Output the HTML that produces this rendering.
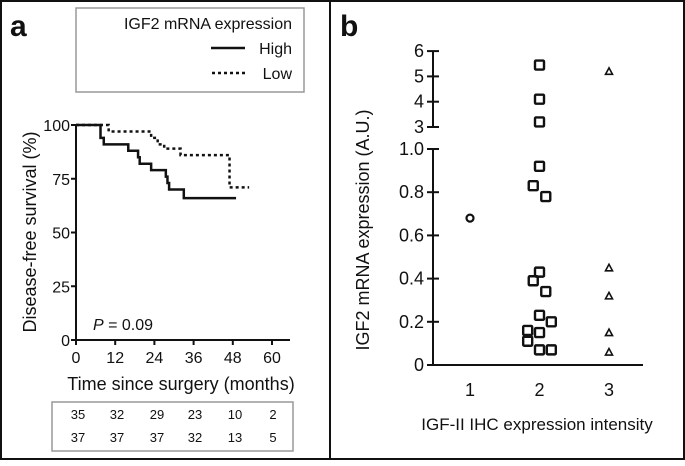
<!DOCTYPE html>
<html><head><meta charset="utf-8"><style>
body{margin:0;background:#fff;font-family:"Liberation Sans",sans-serif}
svg text{font-family:"Liberation Sans",sans-serif;fill:#111}
</style></head><body>
<svg id="fig" width="685" height="461" viewBox="0 0 685 461" xmlns="http://www.w3.org/2000/svg">
<rect x="1" y="1" width="683" height="458" fill="none" stroke="#111" stroke-width="2"/>
<line x1="330" y1="1" x2="330" y2="459" stroke="#111" stroke-width="2"/>
<text x="10" y="36" font-size="30" font-weight="bold">a</text>
<text x="340" y="36" font-size="30" font-weight="bold">b</text>
<g>
<rect x="76" y="8" width="228" height="84" fill="none" stroke="#999" stroke-width="1.5"/>
<text x="292" y="29" font-size="16" text-anchor="end">IGF2 mRNA expression</text>
<line x1="211" y1="48" x2="245" y2="48" stroke="#111" stroke-width="2.5"/>
<text x="292" y="54" font-size="16" text-anchor="end">High</text>
<line x1="212" y1="73" x2="245" y2="73" stroke="#111" stroke-width="2.5" stroke-dasharray="3,3"/>
<text x="292" y="79" font-size="16" text-anchor="end">Low</text>
</g>
<g id="pa"></g>
<g id="pb"></g>
<g>
<rect x="52" y="402" width="241" height="49" fill="none" stroke="#999" stroke-width="1.5"/>
</g>
</svg>
<script>
const NS="http://www.w3.org/2000/svg";
// Panel a data
const xTicksA=[0,12,24,36,48,60];
const yTicksA=[0,25,50,75,100];
const highT=[0,6.5,7.5,8.5,16,19,19.5,23,27.5,28,28.5,33,49];
const highS=[100,100,94,91,88,85,82,79,76,73,70,66,66];
const lowT=[0,10,22,23,25,27,32,47,53];
const lowS=[100,97,97,94,91,89,86,71,71];
const riskHigh=[35,32,29,23,10,2];
const riskLow=[37,37,37,32,13,5];
// Panel b data
const cats=[1,2,3];
const g1Val=[0.68];
const g2Val=[5.45,4.1,3.2,0.92,0.83,0.78,0.43,0.39,0.34,0.23,0.2,0.16,0.15,0.11,0.07,0.07];
const g2Jit=[0,0,0,0,-0.09,0.09,0,-0.09,0.09,0,0.17,-0.17,0,-0.17,0,0.17];
const g3Val=[5.2,0.45,0.32,0.15,0.06];
const yTicksLow=[0,0.2,0.4,0.6,0.8,1.0];
const yTicksHigh=[3,4,5,6];

function el(tag,attrs,parent,txt){const e=document.createElementNS(NS,tag);for(const k in attrs)e.setAttribute(k,attrs[k]);if(txt!==undefined)e.textContent=txt;parent.appendChild(e);return e;}
const pa=document.getElementById('pa'), pb=document.getElementById('pb'), svg=document.getElementById('fig');
const xA=t=>76+t*(196/60), yA=s=>340-s*2.15;
let a=el('line',{x1:xA(0),y1:yA(0),x2:xA(0),y2:yA(100),stroke:'#111','stroke-width':2},pa);

a=el('line',{x1:xA(0)-4,y1:yA(0),x2:290,y2:yA(0),stroke:'#111','stroke-width':2},pa);

yTicksA.forEach(v=>{el('line',{x1:xA(0)-5,x2:xA(0),y1:yA(v),y2:yA(v),stroke:'#111','stroke-width':2},pa);
 const t=el('text',{x:xA(0)-6,y:yA(v)+6,'font-size':16,'text-anchor':'end'},pa,v);
 });
xTicksA.forEach(v=>{el('line',{x1:xA(v),x2:xA(v),y1:yA(0),y2:yA(0)+5,stroke:'#111','stroke-width':2},pa);
 const t=el('text',{x:xA(v),y:yA(0)+23,'font-size':16,'text-anchor':'middle'},pa,v);
 });
let t=el('text',{x:181,y:390,'font-size':18,'text-anchor':'middle'},pa,'Time since surgery (months)');

t=el('text',{transform:'translate(36,232) rotate(-90)','font-size':18,'text-anchor':'middle'},pa,'Disease-free survival (%)');

t=el('text',{x:93,y:330,'font-size':16},pa);
el('tspan',{'font-style':'italic'},t,'P');el('tspan',{},t,' = 0.09');

function stepPath(T,S){let d='M'+xA(T[0])+','+yA(S[0]);for(let i=1;i<T.length;i++){d+=' H'+xA(T[i])+' V'+yA(S[i]);}return d;}
let p=el('path',{d:stepPath(highT,highS),fill:'none',stroke:'#111','stroke-width':2.5},pa);

p=el('path',{d:stepPath(lowT,lowS),fill:'none',stroke:'#111','stroke-width':2.5,'stroke-dasharray':'3,3'},pa);

const riskX=[78,117,157,195,235,273];
riskHigh.forEach((v,i)=>{const r=el('text',{x:riskX[i],y:419,'font-size':13,'text-anchor':'middle'},svg,v);
 });
riskLow.forEach((v,i)=>{const r=el('text',{x:riskX[i],y:442,'font-size':13,'text-anchor':'middle'},svg,v);
 });
// Panel b
const xB=c=>470+(c-1)*69.5;
const yB=v=>v<=1?365-v*216:127-(v-3)*25.3;
a=el('path',{d:`M433,${yB(6)} V${yB(3)} M433,${yB(1)} V${yB(0)}`,stroke:'#111','stroke-width':2,fill:'none'},pb);

a=el('line',{x1:427,y1:yB(0),x2:643,y2:yB(0),stroke:'#111','stroke-width':2},pb);

yTicksLow.concat(yTicksHigh).forEach(v=>{el('line',{x1:427,x2:439,y1:yB(v),y2:yB(v),stroke:'#111','stroke-width':2},pb);
 const tt=el('text',{x:424,y:yB(v)+6,'font-size':18,'text-anchor':'end'},pb,v===1?'1.0':v);
 });
cats.forEach(c=>{const tt=el('text',{x:xB(c),y:yB(0)+31,'font-size':18,'text-anchor':'middle'},pb,c);
 });
t=el('text',{x:537,y:430,'font-size':17,'text-anchor':'middle'},pb,'IGF-II IHC expression intensity');

t=el('text',{transform:'translate(369,230) rotate(-90)','font-size':18,'text-anchor':'middle'},pb,'IGF2 mRNA expression (A.U.)');

g1Val.forEach(v=>{const c=el('circle',{cx:xB(1),cy:yB(v),r:3.5,fill:'none',stroke:'#111','stroke-width':2.2},pb);
 });
g2Val.forEach((v,i)=>{const x=xB(2+g2Jit[i]),y=yB(v);const r=el('rect',{x:x-4.5,y:y-4.5,width:9,height:9,fill:'none',stroke:'#111','stroke-width':2.4,rx:1},pb);
 });
g3Val.forEach(v=>{const x=xB(3),y=yB(v);const q=el('polygon',{points:`${x},${y-3.5} ${x-3.5},${y+3} ${x+3.5},${y+3}`,fill:'none',stroke:'#111','stroke-width':1.6},pb);
 });
</script>
</body></html>
